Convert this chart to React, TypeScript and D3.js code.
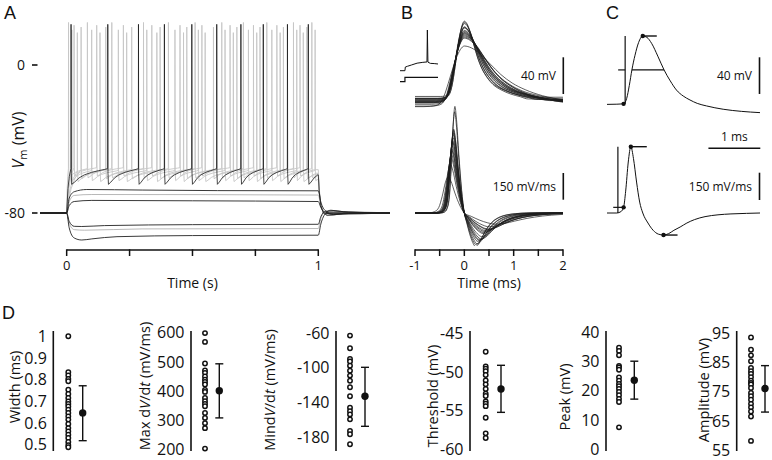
import React from "react";
import * as d3 from "d3";

type P = [number, number];

const FONT = "'Open Sans', 'Noto Sans', sans-serif";
const PANEL_FONT = "'Liberation Sans', Arial, sans-serif";

// ================= Panel A data =================
const REST_MV = -80;
const A_VOLT_TICKS = [0, -80];
const A_VOLT_TICK_LABELS = ["0", "-80"];
const A_TIME_TICKS = [0, 0.25, 0.5, 0.75, 1];
const A_TIME_LABEL_VALUES = [0, 1];
const A_TIME_LABELS = ["0", "1"];

const A_BLACK_SPIKES = [0.017, 0.163, 0.285, 0.388, 0.497, 0.596, 0.692, 0.781, 0.877, 0.96];
const A_BLACK_LEVELS = [22, -64.5, -56]; // peak, trough, threshold (mV)

const A_GRAY_SPIKES: number[][] = [
  [0.007, 0.082, 0.179, 0.305, 0.404, 0.51, 0.616, 0.702, 0.795, 0.901, 0.974],
  [0.02, 0.099, 0.205, 0.318, 0.43, 0.523, 0.629, 0.722, 0.815, 0.914, 0.987],
  [0.029, 0.119, 0.225, 0.338, 0.45, 0.537, 0.649, 0.742, 0.835, 0.927],
  [0.042, 0.132, 0.238, 0.358, 0.464, 0.55, 0.662, 0.755, 0.848, 0.94],
  [0.057, 0.155, 0.258, 0.371, 0.477, 0.583, 0.676, 0.768, 0.861, 0.954],
];
const A_GRAY_PEAKS = [23, 19, 21.5, 17.5, 20.5];
const A_GRAY_TROUGHS = [-61, -62.5, -60, -63, -61.5];
const A_GRAY_THRESH = [-56, -57, -55.5, -57.5, -56.5];

const A_ONSET_SHAPE: P[] = [[0, 0], [0.3, 0.55], [0.6, 0.82], [1, 1]];
const A_ISI_SHAPE: P[] = [[0, 0], [0.08, 0.14], [0.2, 0.4], [0.35, 0.6], [0.55, 0.76], [0.75, 0.87], [0.92, 0.95], [1, 1]];
const A_OFFSET_SHAPE: P[] = [[0, 1], [0.004, 0.55], [0.01, 0.2], [0.02, 0.0], [0.035, -0.06], [0.06, -0.05], [0.1, -0.01], [0.285, 0]];

const A_SUB_BLACK: P[][] = [
  [[-0.106, -80], [0, -80], [0.01, -72], [0.03, -68.5], [0.08, -67.3], [0.3, -67.6], [0.6, -67.9], [1.0, -68], [1.01, -74], [1.03, -79], [1.06, -80.8], [1.12, -80.3], [1.285, -80]],
  [[-0.106, -80], [0, -80], [0.01, -76], [0.03, -73.8], [0.1, -73.2], [0.5, -73.4], [1.0, -73.8], [1.01, -77], [1.03, -80], [1.06, -80.6], [1.285, -80]],
  [[-0.106, -80], [0, -80], [0.01, -84.5], [0.03, -87.2], [0.06, -87.3], [0.15, -86.8], [0.5, -86.3], [1.0, -86.1], [1.01, -82], [1.03, -79], [1.06, -78.8], [1.12, -79.6], [1.285, -80]],
  [[-0.106, -80], [0, -80], [0.01, -88], [0.03, -93.5], [0.06, -94.6], [0.1, -94], [0.2, -92.8], [0.5, -92.2], [1.0, -92], [1.01, -86], [1.03, -80], [1.05, -78.5], [1.1, -79.3], [1.285, -80]],
];
const A_SUB_GRAY: P[][] = [
  [[-0.106, -80], [0, -80], [0.01, -74], [0.03, -70.5], [0.1, -70], [1.0, -70.3], [1.01, -76], [1.03, -80], [1.06, -80.5], [1.285, -80]],
  [[-0.106, -80], [0, -80], [0.01, -85.5], [0.03, -89], [0.07, -89.3], [0.3, -88.6], [1.0, -88.4], [1.01, -83], [1.03, -79.2], [1.07, -79.2], [1.285, -80]],
];

// ================= Panel B data =================
const B_V_TEMPLATE: P[] = [[-1, 0], [-0.6, 0], [-0.5, 0.005], [-0.42, 0.02], [-0.36, 0.06], [-0.3, 0.18], [-0.24, 0.38], [-0.18, 0.6], [-0.12, 0.8], [-0.06, 0.94], [0, 1], [0.08, 0.97], [0.18, 0.87], [0.3, 0.7], [0.42, 0.53], [0.55, 0.39], [0.7, 0.28], [0.9, 0.18], [1.15, 0.11], [1.45, 0.055], [1.75, 0.02], [2, -0.01]];
const B_DV_TEMPLATE: P[] = [[-1, 0], [-0.6, 0], [-0.5, 0.01], [-0.44, 0.04], [-0.38, 0.15], [-0.33, 0.45], [-0.28, 0.85], [-0.24, 1], [-0.2, 0.88], [-0.14, 0.55], [-0.07, 0.22], [0, 0], [0.08, -0.3], [0.17, -0.62], [0.27, -0.88], [0.36, -1], [0.46, -0.93], [0.58, -0.72], [0.72, -0.48], [0.9, -0.27], [1.1, -0.14], [1.35, -0.06], [1.65, -0.02], [2, 0]];
const B_TIME_TICKS = [-1, -0.5, 0, 0.5, 1, 1.5, 2];
const B_TIME_LABEL_VALUES = [-1, 0, 1, 2];
const B_INSET_V: P[] = [[0, -75], [0.13, -75], [0.14, -66], [0.2, -64], [0.3, -61], [0.45, -56.5], [0.6, -54.5], [0.71, -53.5], [0.72, 25], [0.735, -54], [0.8, -57], [0.9, -57.5], [1, -58.5]];
const B_INSET_I: P[] = [[0, 0], [0.13, 0], [0.13, 1], [1, 1]];

// ================= Panel C data =================
const C_V: P[] = [[-0.69, -50.6], [-0.5, -50.4], [-0.37, -50], [-0.31, -44], [-0.26, -30], [-0.21, -13], [-0.15, 3], [-0.08, 17], [0, 24], [0.08, 22.5], [0.17, 16], [0.29, 2], [0.41, -13], [0.53, -25], [0.65, -35], [0.78, -41.5], [0.91, -45.8], [1.05, -49.5], [1.23, -52.3], [1.55, -55.9], [1.9, -58.2], [2.26, -59.6]];
const C_DV: P[] = [[-0.69, 0], [-0.5, 0], [-0.42, 8], [-0.37, 31], [-0.33, 120], [-0.28, 280], [-0.23, 364], [-0.18, 300], [-0.12, 170], [-0.06, 60], [0, 0], [0.1, -55], [0.2, -95], [0.3, -116], [0.4, -121], [0.5, -113], [0.6, -95], [0.72, -77], [0.85, -55], [1.0, -36], [1.2, -20], [1.45, -10], [1.7, -5], [2.0, -2], [2.26, 0]];
const C_V_THR: P = [-0.37, -50];
const C_V_PEAK: P = [0, 24];
const C_HALF_T = [-0.21, 0.41];
const C_HALF_V = -13;
const C_DV_THR: P = [-0.37, 31];
const C_DV_MAX: P = [-0.23, 364];
const C_DV_MIN: P = [0.4, -121];

// ================= Panel D data =================
const WIDTH = [1.0, 0.834, 0.82, 0.803, 0.793, 0.754, 0.734, 0.716, 0.7, 0.688, 0.677, 0.662, 0.647, 0.631, 0.616, 0.596, 0.577, 0.562, 0.546, 0.531, 0.513, 0.498, 0.489];
const MAXDV = [599, 569, 495, 471, 463, 451, 440, 432, 423, 405, 398, 377, 366, 357, 349, 326, 309, 291, 274, 204];
const MINDV = [-63, -77.5, -90, -92.8, -97.7, -103.4, -109, -114.9, -122.5, -132.8, -146, -150, -153.7, -159.4, -172.8, -176.6, -188];
const THRESH = [-47.4, -49.3, -49.6, -49.9, -50.4, -51.1, -51.6, -52.2, -52.8, -53.1, -53.8, -54.1, -54.4, -55.9, -57.9, -58.5];
const PEAK = [34.7, 33.6, 32.1, 28.5, 28, 27.2, 24.6, 23.5, 22.4, 21.6, 20.7, 19.6, 18.5, 17.3, 16.2, 7.6];
const AMP = [93.5, 89.3, 87.4, 85.4, 83.1, 82.0, 81.1, 80.0, 78.8, 78.0, 77.5, 76.3, 74.6, 73.5, 72.3, 70.9, 69.7, 68.3, 66.6, 58.3];
const D_MEANS = [0.647, 402, -132.8, -52.2, 23.6, 76.1];
const D_ERR_LO = [0.519, 309, -167.4, -55.2, 17.2, 68.1];
const D_ERR_HI = [0.772, 494, -99.5, -49.15, 30.1, 83.9];
const D_TICKS = [
  [0.5, 0.6, 0.7, 0.8, 0.9, 1],
  [200, 300, 400, 500, 600],
  [-180, -140, -100, -60],
  [-60, -55, -50, -45],
  [0, 10, 20, 30, 40],
  [55, 65, 75, 85, 95],
];
const D_DOMAINS: P[] = [[0.4714, 1.0244], [195.8, 606.2], [-195.8, -57.7], [-60.17, -44.74], [-0.44, 40.37], [54.86, 95.68]];
const D_LABELS: [string, boolean][][] = [
  [["Width (ms)", false]],
  [["Max d", false], ["V", true], ["/d", false], ["t", true], [" (mV/ms)", false]],
  [["Mind", false], ["V", true], ["/d", false], ["t", true], [" (mV/ms)", false]],
  [["Threshold (mV)", false]],
  [["Peak (mV)", false]],
  [["Amplitude (mV)", false]],
];

// layout of the D sub-panels (pixels)
const D_AXIS_X = [53.3, 191, 336, 470, 606, 736.7];
const D_DOT_X = [68.3, 205, 350, 485.7, 619, 751];
const D_MEAN_X = [82.7, 219.3, 365, 501, 634.3, 765];
const D_LABEL_X = [15, 144.5, 270, 433, 565, 704];
const D_LABEL_Y = [387, 386, 390, 396, 397, 390];

function buildSpikingTrace(spikes: number[], peak: number, trough: number, thr: number): P[] {
  const pts: P[] = [[-0.106, REST_MV], [0, REST_MV]];
  const first = spikes[0];
  for (const [ph, f] of A_ONSET_SHAPE) if (ph > 0) pts.push([ph * first, REST_MV + f * (thr - REST_MV)]);
  let last = thr;
  spikes.forEach((ts, i) => {
    pts.push([ts + 0.0004, peak], [ts + 0.0012, trough + 6], [ts + 0.003, trough]);
    last = trough;
    const start = ts + 0.003;
    const next = spikes[i + 1];
    const isi = next !== undefined ? next - start : 0.1;
    for (const [ph, f] of A_ISI_SHAPE) {
      if (ph === 0) continue;
      const tt = start + ph * isi;
      if (tt >= 1) break;
      const v = trough + f * (thr - trough);
      pts.push([tt, v]);
      last = v;
    }
  });
  pts.push([1, last]);
  for (const [dt, f] of A_OFFSET_SHAPE) if (dt > 0) pts.push([1 + dt, REST_MV + f * (last - REST_MV)]);
  return pts;
}

function Italic({ parts }: { parts: [string, boolean][] }) {
  return (
    <>
      {parts.map(([s, it], i) => (
        <tspan key={i} fontStyle={it ? "italic" : "normal"}>{s}</tspan>
      ))}
    </>
  );
}

export default function App() {
  // ---------- Panel A ----------
  const xA = d3.scaleLinear().domain([-0.106, 1.285]).range([40, 390]);
  const yA = d3.scaleLinear().domain([-80, 0]).range([213, 65]);
  const lineA = d3.line<P>().x((d) => xA(d[0])).y((d) => yA(d[1]));
  const lineAS = d3.line<P>().x((d) => xA(d[0])).y((d) => yA(d[1])).curve(d3.curveMonotoneX);
  const blackTrace = buildSpikingTrace(A_BLACK_SPIKES, A_BLACK_LEVELS[0], A_BLACK_LEVELS[1], A_BLACK_LEVELS[2]);
  const grayTraces = A_GRAY_SPIKES.map((s, i) => buildSpikingTrace(s, A_GRAY_PEAKS[i], A_GRAY_TROUGHS[i], A_GRAY_THRESH[i]));
  const axisYA = 250;

  // ---------- Panel B ----------
  const xB = d3.scaleLinear().domain([-1, 2]).range([415, 563]);
  const yBV = d3.scaleLinear().domain([0, 40]).range([53, 53 - 40 * 0.917]);
  const yBD = d3.scaleLinear().domain([0, 150]).range([213, 213 - 26.7]);
  const lineBV = d3.line<P>().x((d) => xB(d[0])).y((d) => yBV(d[1])).curve(d3.curveMonotoneX);
  const lineBD = d3.line<P>().x((d) => xB(d[0])).y((d) => yBD(d[1])).curve(d3.curveMonotoneX);
  const nB = PEAK.length;
  const pick = (arr: number[], i: number, rev: boolean) =>
    arr[Math.round((rev ? nB - 1 - i : i) * (arr.length - 1) / (nB - 1))];
  const bCells = d3.range(nB).map((i) => {
    const peak = PEAK[i];
    const base = THRESH[i];
    const w = pick(WIDTH, i, true);
    const maxDv = pick(MAXDV, i, false);
    const minDv = pick(MINDV, i, true);
    const r = Math.max(0.75, Math.min(1.4, Math.sqrt(380 / maxDv)));
    const k = (w - 0.207) / 0.45;
    const sc = (t: number) => (t < 0 ? t * r : t * k);
    const v: P[] = B_V_TEMPLATE.map(([t, f]) => [sc(t), base + f * (peak - base)] as P);
    v.unshift([-1.05, base]);
    v.push([2.3, v[v.length - 1][1]]);
    const dv: P[] = B_DV_TEMPLATE.map(([t, f]) => [sc(t), f > 0 ? f * maxDv : f * -minDv] as P);
    dv.unshift([-1.05, 0]);
    dv.push([2.3, 0]);
    return { v, dv };
  });
  const xIn = d3.scaleLinear().domain([0, 1]).range([400, 438]);
  const yInV = d3.scaleLinear().domain([-75, 25]).range([70.7, 30]);
  const yInI = d3.scaleLinear().domain([0, 1]).range([81.7, 77.3]);
  const lineInV = d3.line<P>().x((d) => xIn(d[0])).y((d) => yInV(d[1]));
  const lineInI = d3.line<P>().x((d) => xIn(d[0])).y((d) => yInI(d[1]));

  // ---------- Panel C ----------
  const xC = d3.scaleLinear().domain([-0.69, 2.26]).range([607, 760]);
  const yCV = d3.scaleLinear().domain([0, 24]).range([58, 36]);
  const yCD = d3.scaleLinear().domain([0, 364]).range([213, 146.7]);
  const lineCV = d3.line<P>().x((d) => xC(d[0])).y((d) => yCV(d[1])).curve(d3.curveMonotoneX);
  const lineCD = d3.line<P>().x((d) => xC(d[0])).y((d) => yCD(d[1])).curve(d3.curveMonotoneX);

  const bar40B = Math.abs(yBV(40) - yBV(0));
  const bar150B = Math.abs(yBD(150) - yBD(0));
  const bar40C = Math.abs(yCV(40) - yCV(0));
  const bar150C = Math.abs(yCD(150) - yCD(0));
  const bar1msC = xC(1) - xC(0);

  // ---------- Panel D ----------
  const dData = [WIDTH, MAXDV, MINDV, THRESH, PEAK, AMP];

  const txt = { fontFamily: FONT, fill: "#111" } as const;
  const strokeK = "#111";

  return (
    <svg width={772} height={460} style={{ position: "absolute", left: 0, top: 0, background: "#fff" }}>
      <rect x={0} y={0} width={772} height={460} fill="#fff" />
      <defs>
        <clipPath id="clipB">
          <rect x={415} y={0} width={148} height={246} />
        </clipPath>
      </defs>

      {/* Panel labels */}
      <text x={4} y={19} fontFamily={PANEL_FONT} fontSize={18} fill="#111">A</text>
      <text x={401} y={19} fontFamily={PANEL_FONT} fontSize={18} fill="#111">B</text>
      <text x={606} y={19} fontFamily={PANEL_FONT} fontSize={18} fill="#111">C</text>
      <text x={2} y={319} fontFamily={PANEL_FONT} fontSize={18} fill="#111">D</text>

      {/* ===== Panel A ===== */}
      <g>
        {grayTraces.map((tr, i) => (
          <path key={"g" + i} d={lineA(tr) || ""} fill="none" stroke="#c6c6c6" strokeWidth={0.9} />
        ))}
        {A_SUB_GRAY.map((tr, i) => (
          <path key={"sg" + i} d={lineAS(tr) || ""} fill="none" stroke="#b0b0b0" strokeWidth={0.9} />
        ))}
        {A_SUB_BLACK.map((tr, i) => (
          <path key={"sb" + i} d={lineAS(tr) || ""} fill="none" stroke="#222" strokeWidth={0.9} />
        ))}
        <path d={lineA(blackTrace) || ""} fill="none" stroke="#1a1a1a" strokeWidth={0.8} />
        <line x1={xA(-0.106)} x2={xA(0)} y1={yA(REST_MV)} y2={yA(REST_MV)} stroke="#222" strokeWidth={1.6} />
        <line x1={xA(1.03)} x2={xA(1.285)} y1={yA(REST_MV)} y2={yA(REST_MV)} stroke="#222" strokeWidth={1.4} />

        {A_VOLT_TICKS.map((v, i) => (
          <g key={"vt" + i}>
            <line x1={32} x2={37.5} y1={yA(v)} y2={yA(v)} stroke={strokeK} strokeWidth={1.6} />
            <text x={25} y={yA(v)} dy="0.36em" textAnchor="end" fontSize={14} {...txt}>{A_VOLT_TICK_LABELS[i]}</text>
          </g>
        ))}
        <text transform={`translate(18,140) rotate(-90)`} textAnchor="middle" dy="0.35em" fontSize={16} {...txt}>
          <tspan fontStyle="italic">V</tspan>
          <tspan fontSize={11} dy="3">m</tspan>
          <tspan dy="-3"> (mV)</tspan>
        </text>

        <line x1={xA(0)} x2={xA(1)} y1={axisYA} y2={axisYA} stroke={strokeK} strokeWidth={1.5} />
        {A_TIME_TICKS.map((t, i) => (
          <line key={"at" + i} x1={xA(t)} x2={xA(t)} y1={axisYA - 0.7} y2={axisYA + 6} stroke={strokeK} strokeWidth={1.5} />
        ))}
        {A_TIME_LABEL_VALUES.map((t, i) => (
          <text key={"al" + i} x={xA(t)} y={270} textAnchor="middle" fontSize={13} {...txt}>{A_TIME_LABELS[i]}</text>
        ))}
        <text x={xA(0.5)} y={288} textAnchor="middle" fontSize={14} {...txt}>Time (s)</text>
      </g>

      {/* ===== Panel B ===== */}
      <g>
        <path d={lineInI(B_INSET_I) || ""} fill="none" stroke="#111" strokeWidth={1.2} />
        <path d={lineInV(B_INSET_V) || ""} fill="none" stroke="#111" strokeWidth={1} />
        <g clipPath="url(#clipB)">
          {bCells.map((c, i) => (
            <path key={"bv" + i} d={lineBV(c.v) || ""} fill="none" stroke="#1c1c1c" strokeWidth={0.7} />
          ))}
          {bCells.map((c, i) => (
            <path key={"bd" + i} d={lineBD(c.dv) || ""} fill="none" stroke="#1c1c1c" strokeWidth={0.7} />
          ))}
        </g>
        <line x1={563.3} x2={563.3} y1={57.3} y2={57.3 + bar40B} stroke={strokeK} strokeWidth={1.6} />
        <text x={556} y={80} textAnchor="end" fontSize={12} {...txt}>40 mV</text>
        <line x1={563.3} x2={563.3} y1={173} y2={173 + bar150B} stroke={strokeK} strokeWidth={1.6} />
        <text x={556} y={191} textAnchor="end" fontSize={12} {...txt}>150 mV/ms</text>

        <line x1={xB(-1)} x2={xB(2)} y1={axisYA} y2={axisYA} stroke={strokeK} strokeWidth={1.5} />
        {B_TIME_TICKS.map((t, i) => (
          <line key={"bt" + i} x1={xB(t)} x2={xB(t)} y1={axisYA - 0.7} y2={axisYA + 6} stroke={strokeK} strokeWidth={1.5} />
        ))}
        {B_TIME_LABEL_VALUES.map((t, i) => (
          <text key={"bl" + i} x={xB(t)} y={270} textAnchor="middle" fontSize={13} {...txt}>{String(t)}</text>
        ))}
        <text x={xB(0.5)} y={288} textAnchor="middle" fontSize={14} {...txt}>Time (ms)</text>
      </g>

      {/* ===== Panel C ===== */}
      <g>
        <path d={lineCV(C_V) || ""} fill="none" stroke="#111" strokeWidth={1} />
        <path d={lineCD(C_DV) || ""} fill="none" stroke="#111" strokeWidth={1} />
        <line x1={xC(-0.34)} x2={xC(-0.34)} y1={yCV(C_V_PEAK[1])} y2={yCV(C_V_THR[1])} stroke={strokeK} strokeWidth={1.2} />
        <line x1={xC(-0.475)} x2={xC(-0.34)} y1={yCV(C_HALF_V)} y2={yCV(C_HALF_V)} stroke={strokeK} strokeWidth={1.2} />
        <line x1={xC(C_HALF_T[0])} x2={xC(C_HALF_T[1])} y1={yCV(C_HALF_V)} y2={yCV(C_HALF_V)} stroke={strokeK} strokeWidth={1.4} />
        <line x1={xC(C_V_PEAK[0])} x2={xC(0.27)} y1={yCV(C_V_PEAK[1])} y2={yCV(C_V_PEAK[1])} stroke={strokeK} strokeWidth={1.4} />
        <circle cx={xC(C_V_THR[0])} cy={yCV(C_V_THR[1])} r={2.2} fill="#111" />
        <circle cx={xC(C_V_PEAK[0])} cy={yCV(C_V_PEAK[1])} r={2.2} fill="#111" />
        <line x1={xC(-0.48)} x2={xC(-0.48)} y1={yCD(C_DV_MAX[1])} y2={yCD(0)} stroke={strokeK} strokeWidth={1.2} />
        <line x1={xC(-0.57)} x2={xC(-0.34)} y1={yCD(C_DV_THR[1])} y2={yCD(C_DV_THR[1])} stroke={strokeK} strokeWidth={1.2} />
        <line x1={xC(C_DV_MAX[0])} x2={xC(0.077)} y1={yCD(C_DV_MAX[1])} y2={yCD(C_DV_MAX[1])} stroke={strokeK} strokeWidth={1.4} />
        <line x1={xC(C_DV_MIN[0])} x2={xC(0.67)} y1={yCD(C_DV_MIN[1])} y2={yCD(C_DV_MIN[1])} stroke={strokeK} strokeWidth={1.4} />
        <circle cx={xC(C_DV_THR[0])} cy={yCD(C_DV_THR[1])} r={2.2} fill="#111" />
        <circle cx={xC(C_DV_MAX[0])} cy={yCD(C_DV_MAX[1])} r={2.2} fill="#111" />
        <circle cx={xC(C_DV_MIN[0])} cy={yCD(C_DV_MIN[1])} r={2.2} fill="#111" />
        <line x1={759.5} x2={759.5} y1={57.3} y2={57.3 + bar40C} stroke={strokeK} strokeWidth={1.6} />
        <text x={752} y={80} textAnchor="end" fontSize={12} {...txt}>40 mV</text>
        <line x1={760.3 - bar1msC} x2={760.3} y1={148.3} y2={148.3} stroke={strokeK} strokeWidth={1.6} />
        <text x={760.3 - bar1msC / 2} y={141} textAnchor="middle" fontSize={12} {...txt}>1 ms</text>
        <line x1={759.5} x2={759.5} y1={172.7} y2={172.7 + bar150C} stroke={strokeK} strokeWidth={1.6} />
        <text x={752} y={191} textAnchor="end" fontSize={12} {...txt}>150 mV/ms</text>
      </g>

      {/* ===== Panel D ===== */}
      {dData.map((vals, i) => {
        const y = d3.scaleLinear().domain(D_DOMAINS[i]).range([451, 331]);
        const ax = D_AXIS_X[i];
        const mx = D_MEAN_X[i];
        return (
          <g key={"d" + i}>
            <line x1={ax} x2={ax} y1={y(D_DOMAINS[i][0])} y2={y(D_DOMAINS[i][1])} stroke={strokeK} strokeWidth={1.6} />
            {D_TICKS[i].map((t, j) => (
              <text key={j} x={ax - 6.5} y={y(t)} dy="0.35em" textAnchor="end" fontSize={16} {...txt}>{String(t)}</text>
            ))}
            <text transform={`translate(${D_LABEL_X[i]},${D_LABEL_Y[i]}) rotate(-90)`} textAnchor="middle" dy="0.35em" fontSize={14.5} {...txt}>
              <Italic parts={D_LABELS[i]} />
            </text>
            {vals.map((v, j) => (
              <circle key={j} cx={D_DOT_X[i]} cy={y(v)} r={2.2} fill="#fff" stroke="#111" strokeWidth={1.5} />
            ))}
            <line x1={mx} x2={mx} y1={y(D_ERR_LO[i])} y2={y(D_ERR_HI[i])} stroke={strokeK} strokeWidth={1.4} />
            <line x1={mx - 4} x2={mx + 4} y1={y(D_ERR_LO[i])} y2={y(D_ERR_LO[i])} stroke={strokeK} strokeWidth={1.4} />
            <line x1={mx - 4} x2={mx + 4} y1={y(D_ERR_HI[i])} y2={y(D_ERR_HI[i])} stroke={strokeK} strokeWidth={1.4} />
            <circle cx={mx} cy={y(D_MEANS[i])} r={3.7} fill="#111" />
          </g>
        );
      })}
    </svg>
  );
}
